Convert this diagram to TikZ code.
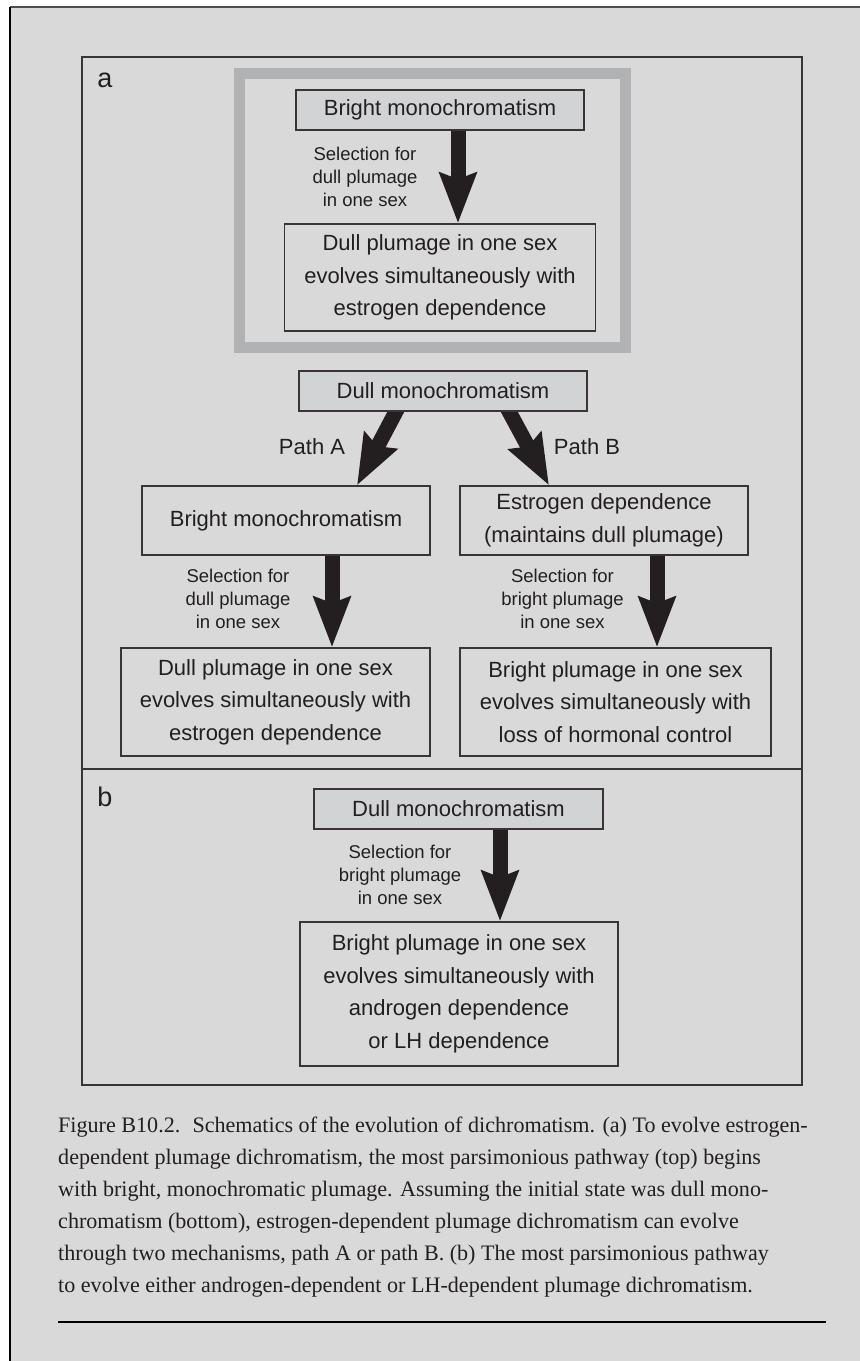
\documentclass[tikz,border=0pt]{standalone}
\usepackage{fontspec}
\setmainfont{Liberation Serif}
\setsansfont{Liberation Sans}
\usetikzlibrary{arrows.meta,backgrounds}
\definecolor{pagegray}{HTML}{D9D9D9}
\definecolor{boxgray}{HTML}{D2D3D5}
\definecolor{framegray}{HTML}{B1B2B4}
\definecolor{inkblack}{HTML}{231F20}
\tikzset{
  statebox/.style={draw=inkblack!90, line width=1.3pt, align=center, inner sep=0pt,
    fill=pagegray, text=inkblack, font=\sffamily\fontsize{22}{32.5}\selectfont},
  firstbox/.style={statebox, fill=boxgray},
  sellabel/.style={align=center, inner sep=0pt, text=inkblack,
    font=\sffamily\fontsize{18.5}{23}\selectfont},
  pathlabel/.style={inner sep=0pt, text=inkblack, font=\sffamily\fontsize{22}{26}\selectfont},
  panellabel/.style={inner sep=0pt, text=inkblack, font=\sffamily\fontsize{27}{30}\selectfont},
  fat/.style={line width=15pt, draw=inkblack, -{Stealth[length=50pt,width=36pt,inset=6pt]}}
}
\begin{document}
\begin{tikzpicture}[x=1pt, y=-1pt]
  \useasboundingbox (0,0) rectangle (860,1361);
  \begin{scope}[on background layer]
    \fill[white] (0,0) rectangle (860,1361);
    \fill[pagegray] (10,7) rectangle (860,1361);
  \end{scope}
  \draw[line width=2.5pt, black!70] (10,7) -- (860,7);
  \draw[line width=1.5pt, black] (10,7) -- (10,1361);
  \draw[line width=1.3pt, inkblack!90] (82,57) rectangle (802,1085);
  \draw[line width=1.3pt, inkblack!90] (82,769) -- (802,769);
  \draw[line width=11pt, framegray] (239.5,73.5) rectangle (625.5,347.5);

  \node[panellabel] (la) at (105,80) {a};
  \node[panellabel] (lb) at (105,797) {b};

  \node[firstbox, minimum width=288pt, minimum height=40pt] (topBM) at (440,110) {Bright monochromatism};
  \node[statebox, minimum width=311pt, minimum height=107pt] (topDP) at (440,277.5)
    {Dull plumage in one sex\\evolves simultaneously with\\estrogen dependence};
  \node[sellabel] (topSel) at (365,177) {Selection for\\dull plumage\\in one sex};

  \node[firstbox, minimum width=288pt, minimum height=40pt] (aDM) at (443,391) {Dull monochromatism};
  \node[statebox, minimum width=288pt, minimum height=69pt] (aBM) at (286,520.5) {Bright monochromatism};
  \node[statebox, minimum width=288pt, minimum height=69pt] (aED) at (604,520.5)
    {Estrogen dependence\\(maintains dull plumage)};
  \node[pathlabel] (pA) at (312,447) {Path A};
  \node[pathlabel] (pB) at (587,447) {Path B};
  \node[statebox, minimum width=309pt, minimum height=108pt] (aDP) at (275.5,702)
    {Dull plumage in one sex\\evolves simultaneously with\\estrogen dependence};
  \node[statebox, minimum width=311pt, minimum height=108pt] (aBP) at (615.5,702)
    {Bright plumage in one sex\\evolves simultaneously with\\loss of hormonal control};
  \node[sellabel] (aSelA) at (238,599) {Selection for\\dull plumage\\in one sex};
  \node[sellabel] (aSelB) at (562.5,599) {Selection for\\bright plumage\\in one sex};

  \node[firstbox, minimum width=289pt, minimum height=40pt] (bDM) at (458.5,809) {Dull monochromatism};
  \node[statebox, minimum width=318pt, minimum height=144pt] (bBP) at (459,994)
    {Bright plumage in one sex\\evolves simultaneously with\\androgen dependence\\or LH dependence};
  \node[sellabel] (bSel) at (400,875) {Selection for\\bright plumage\\in one sex};

  \node[anchor=north west, inner sep=0pt, align=left, text=inkblack,
    font=\fontsize{22.1}{32}\selectfont] (caption) at (58,1117)
    {Figure B10.2.\hspace{0.55em}Schematics of the evolution of dichromatism. (a) To evolve estrogen-\\
     dependent plumage dichromatism, the most parsimonious pathway (top) begins\\
     with bright, monochromatic plumage. Assuming the initial state was dull mono-\\
     chromatism (bottom), estrogen-dependent plumage dichromatism can evolve\\
     through two mechanisms, path A or path B. (b) The most parsimonious pathway\\
     to evolve either androgen-dependent or LH-dependent plumage dichromatism.};
  \draw[line width=1.5pt, black] (58,1322) -- (826,1322);

  \begin{scope}[on background layer]
    \draw[fat] ([xshift=18pt]topBM.south) -- ([xshift=18pt]topDP.north);
    \draw[fat] ([xshift=-45pt,yshift=4pt]aDM.south) -- ([xshift=71pt]aBM.north);
    \draw[fat] ([xshift=64pt,yshift=4pt]aDM.south) -- ([xshift=-55pt]aED.north);
    \draw[fat] ([xshift=46pt]aBM.south) -- ([xshift=56.5pt]aDP.north);
    \draw[fat] ([xshift=53pt]aED.south) -- ([xshift=41.5pt]aBP.north);
    \draw[fat] ([xshift=41.5pt]bDM.south) -- ([xshift=41pt]bBP.north);
  \end{scope}
\end{tikzpicture}
\end{document}
